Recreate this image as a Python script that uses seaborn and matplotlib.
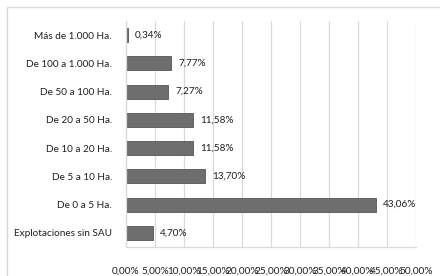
import matplotlib
matplotlib.use("Agg")
import matplotlib.pyplot as plt
import seaborn as sns
import pandas as pd
from matplotlib.patches import Rectangle
from matplotlib.ticker import FuncFormatter, MultipleLocator

categories = ["Más de 1.000 Ha.", "De 100 a 1.000 Ha.", "De 50 a 100 Ha.",
              "De 20 a 50 Ha.", "De 10 a 20 Ha.", "De 5 a 10 Ha.",
              "De 0 a 5 Ha.", "Explotaciones sin SAU"]
values = [0.34, 7.77, 7.27, 11.58, 11.58, 13.70, 43.06, 4.70]
value_labels = ["0,34%", "7,77%", "7,27%", "11,58%", "11,58%", "13,70%", "43,06%", "4,70%"]

sns.set_theme(style="white")
plt.rcParams['font.family'] = ['Lato', 'DejaVu Sans']

df = pd.DataFrame({"cat": categories, "val": values})

fig = plt.figure(figsize=(4.4, 2.76), dpi=100)
fig.patches.append(Rectangle((7/440, -0.1), 1.2, 1 - 7/276 + 0.1, transform=fig.transFigure,
                             fill=False, edgecolor="#d9d9d9", linewidth=1))
ax = fig.add_axes([126/440, 1 - 247/276, 290/440, 226/276])

sns.barplot(data=df, x="val", y="cat", ax=ax, color="#6e6e6e", width=0.5,
            edgecolor="#555555", linewidth=0.6, saturation=1)

ax.set_xlim(0, 50)
ax.xaxis.set_major_locator(MultipleLocator(5))
ax.xaxis.set_major_formatter(FuncFormatter(lambda v, p: f"{v:.2f}%".replace(".", ",")))
ax.grid(axis="x", color="#d9d9d9", linewidth=0.9)
ax.set_axisbelow(True)
ax.set_xlabel("")
ax.set_ylabel("")
for s in ["top", "right"]:
    ax.spines[s].set_visible(False)
for s in ["left", "bottom"]:
    ax.spines[s].set_color("#d9d9d9")
    ax.spines[s].set_linewidth(0.9)
ax.tick_params(axis="both", length=0, labelsize=7.2, colors="#1f1f1f")
ax.tick_params(axis="x", pad=14)
ax.tick_params(axis="y", pad=10)

for cont in ax.containers:
    ax.bar_label(cont, labels=value_labels, padding=5, fontsize=7.2, color="#1f1f1f")

fig.savefig("out.png", dpi=100)
